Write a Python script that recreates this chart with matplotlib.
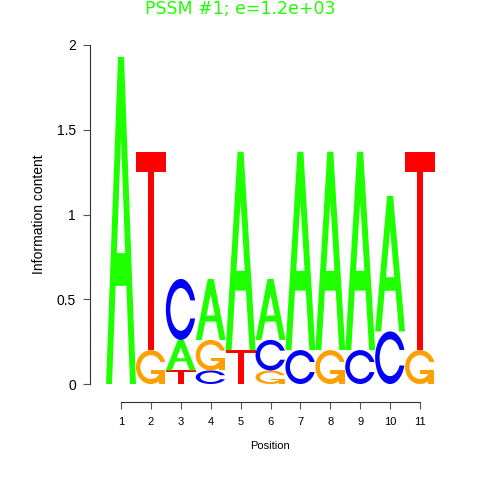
import numpy as np
import matplotlib
matplotlib.use("Agg")
import matplotlib.pyplot as plt
from matplotlib.patches import Polygon

# information content per letter at each position
positions = list(range(1, 12))
height_A = [1.93, 0.0, 0.18, 0.36, 1.17, 0.36, 1.17, 1.17, 1.17, 0.80, 0.0]
height_C = [0.0, 0.0, 0.36, 0.08, 0.0, 0.18, 0.20, 0.0, 0.20, 0.31, 0.0]
height_G = [0.0, 0.20, 0.0, 0.18, 0.0, 0.08, 0.0, 0.20, 0.0, 0.0, 0.20]
height_T = [0.0, 1.17, 0.08, 0.0, 0.20, 0.0, 0.0, 0.0, 0.0, 0.0, 1.17]

colours = {"A": "#1EFF00", "C": "#0000FF", "G": "#FFA000", "T": "#FF0000"}
title = "PSSM #1; e=1.2e+03"


def shape_A():
    x = np.array([0, 4, 6, 10, 8, 6.8, 3.2, 2, 0]) * 0.1
    y = np.array([0, 10, 10, 0, 0, 3, 3, 0, 0]) * 0.1
    hx = np.array([3.6, 5, 6.4, 3.6]) * 0.1
    hy = np.array([4, 7.5, 4, 4]) * 0.1
    return [(x, y, True), (hx, hy, False)]


def shape_T():
    x = np.array([0, 10, 10, 6, 6, 4, 4, 0]) * 0.1
    y = np.array([10, 10, 9, 9, 0, 0, 9, 9]) * 0.1
    return [(x, y, True)]


def shape_C(with_bar=False):
    a1 = np.linspace(0.3 + np.pi / 2, np.pi, 100)
    a2 = np.linspace(np.pi, 1.5 * np.pi, 100)
    xl = np.concatenate([0.5 + 0.5 * np.sin(a1), 0.5 + 0.5 * np.sin(a2)])
    yl = np.concatenate([0.5 + 0.5 * np.cos(a1), 0.5 + 0.5 * np.cos(a2)])
    xo = np.concatenate([xl, xl[::-1]])
    yo = np.concatenate([yl, 1 - yl[::-1]])
    ymax = (0.5 + 0.5 * np.cos(a1)).max()
    xi1 = 0.5 + 0.35 * np.sin(a1)
    yi1 = 0.5 + 0.35 * np.cos(a1)
    keep = yi1 <= ymax
    xi1, yi1 = xi1[keep], yi1[keep]
    yi1[0] = ymax
    xi = np.concatenate([xi1, 0.5 + 0.35 * np.sin(a2)])
    yi = np.concatenate([yi1, 0.5 + 0.35 * np.cos(a2)])
    xin = np.concatenate([xi, xi[::-1]])
    yin = np.concatenate([yi, 1 - yi[::-1]])
    x = np.concatenate([xo, xin[::-1]])
    y = np.concatenate([yo, yin[::-1]])
    parts = [(x, y, True)]
    if with_bar:
        r1 = (0.5 + 0.5 * np.sin(a1)).max()
        h1 = 0.4
        bx = np.array([r1, 0.5, 0.5, r1 - 0.2, r1 - 0.2, r1, r1])
        by = np.array([h1, h1, h1 - 0.1, h1 - 0.1, 0, 0, h1])
        parts.append((bx, by, True))
    return parts


shapes = {"A": shape_A(), "C": shape_C(), "G": shape_C(True), "T": shape_T()}

fig = plt.figure(figsize=(4.8, 4.8), dpi=100)
ax = fig.add_axes([90 / 480, 96 / 480, 360 / 480, 339 / 480])
ax.set_xlim(1 - 31 / 29.9, 1 + 329 / 29.9)
ax.set_ylim(0, 2)

heights = {"A": height_A, "C": height_C, "G": height_G, "T": height_T}
for i, p in enumerate(positions):
    col = sorted(heights, key=lambda k: heights[k][i])
    base = 0.0
    for letter in col:
        h = heights[letter][i]
        if h <= 0:
            continue
        for sx, sy, fill in shapes[letter]:
            xy = np.column_stack([p - 0.5 + sx, base + sy * h])
            fc = colours[letter] if fill else "white"
            ax.add_patch(Polygon(xy, closed=True, facecolor=fc, edgecolor="none",
                                 clip_on=False))
        base += h

for s in ["top", "right"]:
    ax.spines[s].set_visible(False)
ax.spines["left"].set_bounds(0, 2)
ax.spines["bottom"].set_position(("outward", 13))
ax.spines["bottom"].set_bounds(1, 11)
for s in ["left", "bottom"]:
    ax.spines[s].set_color("#333333")
    ax.spines[s].set_linewidth(0.8)

ax.set_xticks(positions)
ax.set_xticklabels([str(p) for p in positions], fontsize=8)
ax.set_yticks([0, 0.5, 1, 1.5, 2])
ax.set_yticklabels(["0", "0.5", "1", "1.5", "2"], fontsize=10)
ax.tick_params(axis="both", length=5, width=0.8, color="#555555", pad=6)
ax.tick_params(axis="y", pad=5)

ax.set_xlabel("Position", fontsize=8, labelpad=10)
ax.set_ylabel("Information content", fontsize=10, labelpad=8)
fig.text(0.5, 1 - 9 / 480, title, color=colours["A"], fontsize=12.5,
         ha="center", va="center")

for t in ax.get_xticklabels() + ax.get_yticklabels():
    t.set_family(["Liberation Sans", "DejaVu Sans"])
ax.xaxis.label.set_family(["Liberation Sans", "DejaVu Sans"])
ax.yaxis.label.set_family(["Liberation Sans", "DejaVu Sans"])

fig.savefig("out.png", dpi=100)
